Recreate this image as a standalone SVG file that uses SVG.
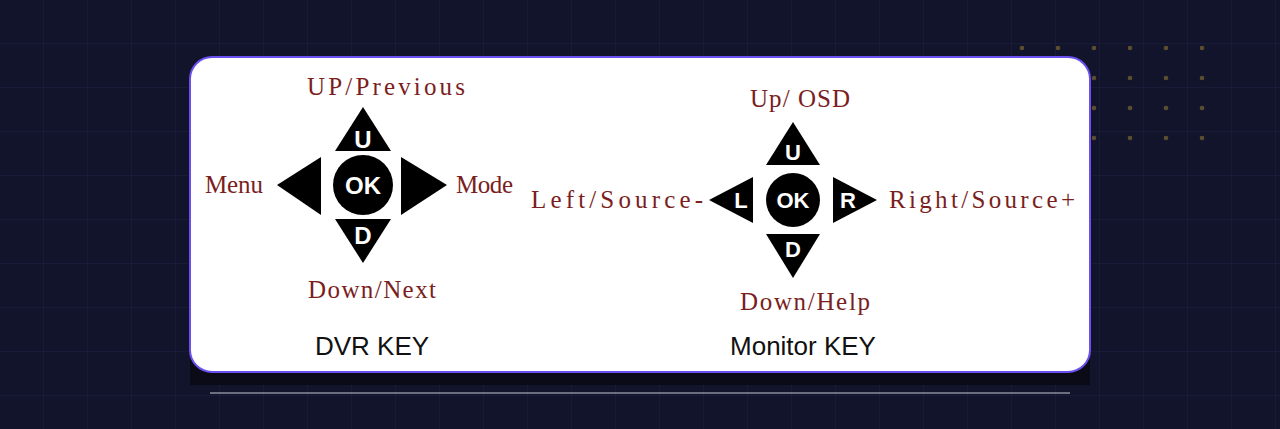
<svg xmlns="http://www.w3.org/2000/svg" width="1280" height="429" viewBox="0 0 1280 429">
<defs>
<pattern id="grid" width="44" height="44" patternUnits="userSpaceOnUse"><path d="M44 0V44M0 44H44" fill="none" stroke="#1e2244" stroke-width="1"/></pattern>
<pattern id="dots" x="1004" y="30" width="36" height="30" patternUnits="userSpaceOnUse"><circle cx="18" cy="18" r="2.3" fill="#5a4d30"/></pattern>
<style>
.lbl{font-family:"Liberation Serif",serif;font-size:25px;fill:#7a1e1e}
.key{font-family:"Liberation Sans",Arial,sans-serif;font-size:26px;fill:#111}
.btn{font-family:"Liberation Sans",Arial,sans-serif;font-weight:bold;fill:#fff;text-anchor:middle}
</style>
</defs>
<rect width="1280" height="429" fill="#11142a"/>
<rect width="1280" height="429" fill="url(#grid)"/>
<rect x="1004" y="30" width="216" height="120" fill="url(#dots)"/>
<rect x="190" y="70" width="900" height="315" fill="#0a0b16"/>
<rect x="190" y="57" width="900" height="315" rx="22" fill="#fff" stroke="#6c4ff0" stroke-width="2"/>
<line x1="210" y1="393" x2="1070" y2="393" stroke="#c8c8d4" stroke-width="1"/>
<g id="dvr">
<polygon points="363,107 335,151 391,151"/>
<polygon points="363,263 335,219 391,219"/>
<polygon points="277,185 321,157 321,215"/>
<polygon points="447,185 401,157 401,215"/>
<circle cx="363" cy="185" r="30"/>
<text class="btn" x="363" y="148" font-size="24">U</text>
<text class="btn" x="363" y="244" font-size="24">D</text>
<text class="btn" x="363" y="194" font-size="24">OK</text>
<text class="lbl" x="386" y="95" text-anchor="middle" textLength="158">UP/Previous</text>
<text class="lbl" x="205" y="193" textLength="58">Menu</text>
<text class="lbl" x="456" y="193" textLength="57">Mode</text>
<text class="lbl" x="372" y="298" text-anchor="middle" textLength="128">Down/Next</text>
<text class="key" x="372" y="355" text-anchor="middle">DVR KEY</text>
</g>
<g id="monitor">
<polygon points="793,122 766,165 820,165"/>
<polygon points="793,278 766,234 820,234"/>
<polygon points="709,200 753,177 753,223"/>
<polygon points="877,200 833,177 833,223"/>
<circle cx="793" cy="200" r="27"/>
<text class="btn" x="793" y="160" font-size="22">U</text>
<text class="btn" x="793" y="257" font-size="22">D</text>
<text class="btn" x="741" y="208" font-size="22">L</text>
<text class="btn" x="848" y="208" font-size="22">R</text>
<text class="btn" x="793" y="208" font-size="22">OK</text>
<text class="lbl" x="750" y="107" textLength="100">Up/ OSD</text>
<text class="lbl" x="531" y="208" textLength="172">Left/Source-</text>
<text class="lbl" x="889" y="208" textLength="186">Right/Source+</text>
<text class="lbl" x="740" y="310" textLength="130">Down/Help</text>
<text class="key" x="803" y="355" text-anchor="middle">Monitor KEY</text>
</g>
<g id="connectors"/>
</svg>
